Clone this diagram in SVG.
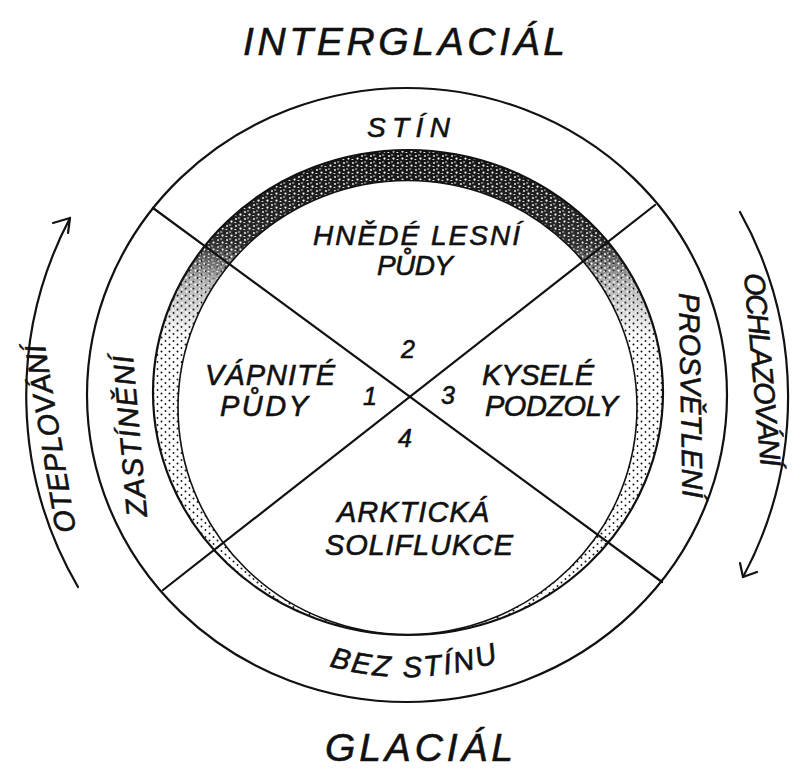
<svg xmlns="http://www.w3.org/2000/svg" width="792" height="770" viewBox="0 0 792 770">
<style>
.ln{fill:none;stroke:#111;stroke-width:2.2;stroke-linecap:round;stroke-linejoin:round}
.thin{fill:none;stroke:#111;stroke-width:1.6}
.t{font-family:"Liberation Sans",Arial,sans-serif;font-style:italic;fill:#111;stroke:#111;stroke-width:0.6}
.big{font-size:39px}
.mid{font-size:29px}
.lab{font-size:28px}
.num{font-size:25px}
</style>
<defs>
<pattern id="dots" width="8" height="7" patternUnits="userSpaceOnUse">
<circle cx="1.5" cy="1.5" r="1" fill="#111"/>
<circle cx="5.5" cy="5" r="0.9" fill="#111"/>
</pattern>
<pattern id="speck" width="9" height="7" patternUnits="userSpaceOnUse">
<rect width="9" height="7" fill="#111"/>
<circle cx="2" cy="2" r="0.9" fill="#fff"/>
<circle cx="6.5" cy="4.6" r="1.1" fill="#fff"/>
<rect x="4" y="0.6" width="2.2" height="0.8" fill="#fff"/>
<rect x="0.5" y="5" width="1.8" height="0.9" fill="#fff"/>
</pattern>
<linearGradient id="mg" gradientUnits="userSpaceOnUse" x1="0" y1="145" x2="0" y2="340">
<stop offset="0" stop-color="#fff"/>
<stop offset="0.5" stop-color="#e0e0e0"/>
<stop offset="0.7" stop-color="#555"/>
<stop offset="1" stop-color="#000"/>
</linearGradient>
<mask id="topmask" maskUnits="userSpaceOnUse" x="0" y="0" width="792" height="770">
<rect width="792" height="770" fill="url(#mg)"/>
</mask>
<path id="band" fill-rule="evenodd" d="M153 392.5a255 242.5 0 1 0 510 0a255 242.5 0 1 0 -510 0Z M178 407.5a229.5 227 0 1 0 459 0a229.5 227 0 1 0 -459 0Z"/>
<path id="bezpath" d="M329 666A282 282 0 0 0 499 661.6"/>
</defs>
<rect width="792" height="770" fill="#fff"/>

<g id="band-stipple">
<use href="#band" fill="url(#dots)"/>
<use href="#band" fill="url(#speck)" mask="url(#topmask)"/>
</g>

<g id="circles">
<ellipse class="ln" cx="407" cy="395" rx="320" ry="307"/>
<ellipse class="ln" cx="408" cy="392.5" rx="255" ry="242.5"/>
<ellipse class="thin" cx="407.5" cy="407.5" rx="229.5" ry="227"/>
</g>

<g id="connectors">
<line class="ln" x1="153" y1="208" x2="662" y2="582"/>
<line class="ln" x1="655" y1="205" x2="163" y2="590"/>
<path class="ln" d="M78 587A381 381 0 0 1 70 218"/>
<polyline class="ln" points="53,223 70,218 68,233"/>
<path class="ln" d="M740 212A381 381 0 0 1 743 577"/>
<polyline class="ln" points="740,563 743,577 757,572"/>
</g>

<g id="titles">
<text class="t big" x="243" y="55" textLength="322" lengthAdjust="spacing">INTERGLACIÁL</text>
<text class="t big" x="325" y="761" textLength="188" lengthAdjust="spacing">GLACIÁL</text>
</g>

<g id="ring-labels">
<text class="t lab" x="367" y="137" font-size="27" textLength="83" lengthAdjust="spacing">STÍN</text>
<text class="t mid"><textPath href="#bezpath" textLength="172" lengthAdjust="spacing">BEZ STÍNU</textPath></text>
<text class="t mid" transform="translate(147,516) rotate(-95)" textLength="162" lengthAdjust="spacing">ZASTÍNĚNÍ</text>
<text class="t mid" transform="translate(679,293) rotate(89)" textLength="205" lengthAdjust="spacing">PROSVĚTLENÍ</text>
<text class="t mid" transform="translate(76,531) rotate(-99.5)" textLength="190" lengthAdjust="spacing">OTEPLOVÁNÍ</text>
<text class="t mid" transform="translate(744,274) rotate(85)" textLength="194" lengthAdjust="spacing">OCHLAZOVÁNÍ</text>
</g>

<g id="sector-2">
<text class="t lab" x="313" y="245" textLength="207" lengthAdjust="spacing">HNĚDÉ LESNÍ</text>
<text class="t lab" x="377" y="275" textLength="76" lengthAdjust="spacing">PŮDY</text>
<text class="t num" x="408" y="358" text-anchor="middle">2</text>
</g>
<g id="sector-1">
<text class="t mid" x="205" y="385" textLength="130" lengthAdjust="spacing">VÁPNITÉ</text>
<text class="t mid" x="220" y="416" textLength="88" lengthAdjust="spacing">PŮDY</text>
<text class="t num" x="370" y="405" text-anchor="middle">1</text>
</g>
<g id="sector-3">
<text class="t mid" x="482" y="385" textLength="112" lengthAdjust="spacing">KYSELÉ</text>
<text class="t mid" x="485" y="416" textLength="133" lengthAdjust="spacing">PODZOLY</text>
<text class="t num" x="448" y="404" text-anchor="middle">3</text>
</g>
<g id="sector-4">
<text class="t mid" x="337" y="522" textLength="152" lengthAdjust="spacing">ARKTICKÁ</text>
<text class="t mid" x="325" y="555" textLength="188" lengthAdjust="spacing">SOLIFLUKCE</text>
<text class="t num" x="405" y="447" text-anchor="middle">4</text>
</g>
</svg>
